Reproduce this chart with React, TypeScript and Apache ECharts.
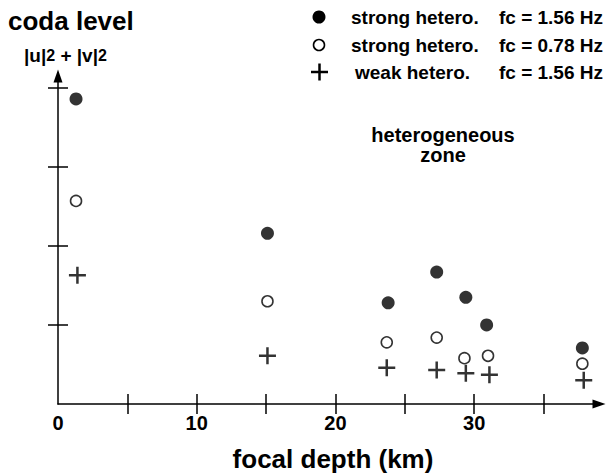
import React, { useEffect, useRef } from "react";
import * as echarts from "echarts";

const seriesNames = [
  "strong hetero.",
  "strong hetero.",
  "weak hetero.",
];
const seriesFc = ["fc = 1.56 Hz", "fc = 0.78 Hz", "fc = 1.56 Hz"];

// focal depth (km), coda level
const strong156: [number, number][] = [
  [1.3, 3.86],
  [15.1, 2.16],
  [23.8, 1.28],
  [27.3, 1.67],
  [29.4, 1.35],
  [30.9, 1.0],
  [37.8, 0.71],
];
const strong078: [number, number][] = [
  [1.3, 2.57],
  [15.1, 1.3],
  [23.7, 0.78],
  [27.3, 0.84],
  [29.3, 0.58],
  [31.0, 0.61],
  [37.8, 0.51],
];
const weak156: [number, number][] = [
  [1.4, 1.63],
  [15.1, 0.61],
  [23.7, 0.46],
  [27.3, 0.43],
  [29.4, 0.39],
  [31.1, 0.37],
  [37.9, 0.3],
];

const xTickValues = [5, 10, 15, 20, 25, 30, 35];
const xLabelValues = [0, 10, 20, 30];
const yTickValues = [1, 2, 3, 4];

const FONT = "'Liberation Sans', Arial, Helvetica, sans-serif";
const PLUS =
  "path://M7.25,0 h2.5 v7.25 h7.25 v2.5 h-7.25 v7.25 h-2.5 v-7.25 h-7.25 v-2.5 h7.25 z";

export default function App() {
  const ref = useRef<HTMLDivElement>(null);
  useEffect(() => {
    if (!ref.current) return;
    const chart = echarts.init(ref.current, null, { renderer: "svg" });
    const gridRect = { left: 58, top: 76, width: 541, height: 328 };
    const xMax = 39;
    const yMax = 4.15;
    const legendRows = [17, 45, 72];
    const axisLineCommon = {
      show: true,
      symbol: ["none", "triangle"],
      symbolSize: [9, 13],
      lineStyle: { color: "#000", width: 1.5 },
    };
    const option: any = {
      animation: false,
      backgroundColor: "#fff",
      textStyle: { fontFamily: FONT },
      grid: [{ ...gridRect }, { ...gridRect }],
      xAxis: [
        {
          type: "value",
          gridIndex: 0,
          min: 0,
          max: xMax,
          interval: 5,
          axisLine: axisLineCommon,
          axisTick: {
            show: true,
            length: 10,
            customValues: xTickValues,
            lineStyle: { color: "#000", width: 1.5 },
          },
          axisLabel: {
            show: true,
            customValues: xLabelValues,
            margin: 9,
            color: "#000",
            fontSize: 20,
            fontWeight: "bold",
            fontFamily: FONT,
          },
          splitLine: { show: false },
        },
        {
          type: "value",
          gridIndex: 1,
          min: 0,
          max: xMax,
          interval: 5,
          axisLine: { show: false },
          axisTick: {
            show: true,
            inside: true,
            length: 10,
            customValues: xTickValues,
            lineStyle: { color: "#000", width: 1.5 },
          },
          axisLabel: { show: false },
          splitLine: { show: false },
        },
      ],
      yAxis: [
        {
          type: "value",
          gridIndex: 0,
          min: 0,
          max: yMax,
          interval: 1,
          axisLine: axisLineCommon,
          axisTick: {
            show: true,
            length: 10,
            customValues: yTickValues,
            lineStyle: { color: "#000", width: 1.5 },
          },
          axisLabel: { show: false },
          splitLine: { show: false },
        },
        {
          type: "value",
          gridIndex: 1,
          min: 0,
          max: yMax,
          interval: 1,
          axisLine: { show: false },
          axisTick: {
            show: true,
            inside: true,
            length: 10,
            customValues: yTickValues,
            lineStyle: { color: "#000", width: 1.5 },
          },
          axisLabel: { show: false },
          splitLine: { show: false },
        },
      ],
      series: [
        {
          name: seriesNames[0] + " " + seriesFc[0],
          type: "scatter",
          xAxisIndex: 0,
          yAxisIndex: 0,
          symbol: "circle",
          symbolSize: 13,
          itemStyle: { color: "#000" },
          data: strong156,
        },
        {
          name: seriesNames[1] + " " + seriesFc[1],
          type: "scatter",
          xAxisIndex: 0,
          yAxisIndex: 0,
          symbol: "circle",
          symbolSize: 11,
          itemStyle: { color: "#fff", borderColor: "#000", borderWidth: 1.6 },
          data: strong078,
        },
        {
          name: seriesNames[2] + " " + seriesFc[2],
          type: "scatter",
          xAxisIndex: 0,
          yAxisIndex: 0,
          symbol: PLUS,
          symbolSize: 17,
          itemStyle: { color: "#000" },
          data: weak156,
        },
      ],
      graphic: [
        {
          type: "text",
          left: 8,
          top: 8,
          style: {
            text: "coda level",
            font: `bold 26px ${FONT}`,
            fill: "#000",
          },
        },
        {
          type: "text",
          x: 24,
          y: 55,
          style: {
            text: "{a||u|}{b|2}{a| + |v|}{b|2}",
            textVerticalAlign: "middle",
            rich: {
              a: { fontSize: 19, fontWeight: "bold", fontFamily: FONT, fill: "#000" },
              b: { fontSize: 16, fontWeight: "bold", fontFamily: FONT, fill: "#000" },
            },
          },
        },
        // legend markers
        {
          type: "circle",
          shape: { cx: 319, cy: legendRows[0], r: 6.5 },
          style: { fill: "#000" },
        },
        {
          type: "circle",
          shape: { cx: 319, cy: legendRows[1], r: 5.5 },
          style: { fill: "#fff", stroke: "#000", lineWidth: 1.6 },
        },
        {
          type: "rect",
          shape: { x: 311, y: legendRows[2] - 1.25, width: 17, height: 2.5 },
          style: { fill: "#000" },
        },
        {
          type: "rect",
          shape: { x: 318.25, y: legendRows[2] - 8.5, width: 2.5, height: 17 },
          style: { fill: "#000" },
        },
        ...legendRows.map((y, i) => ({
          type: "text",
          x: i === 2 ? 355 : 351,
          y,
          style: {
            text: seriesNames[i],
            font: `bold 19px ${FONT}`,
            fill: "#000",
            textAlign: "left",
            textVerticalAlign: "middle",
          },
        })),
        ...legendRows.map((y, i) => ({
          type: "text",
          x: 603,
          y,
          style: {
            text: seriesFc[i],
            font: `bold 19px ${FONT}`,
            fill: "#000",
            textAlign: "right",
            textVerticalAlign: "middle",
          },
        })),
        {
          type: "text",
          x: 443,
          y: 144.5,
          style: {
            text: "heterogeneous\nzone",
            font: `bold 20px ${FONT}`,
            lineHeight: 20,
            fill: "#000",
            textAlign: "center",
            textVerticalAlign: "middle",
          },
        },
        {
          type: "text",
          x: 333,
          y: 459,
          style: {
            text: "focal depth (km)",
            font: `bold 26px ${FONT}`,
            fill: "#000",
            textAlign: "center",
            textVerticalAlign: "middle",
          },
        },
      ],
    };
    chart.setOption(option);
    return () => chart.dispose();
  }, []);
  return (
    <div
      ref={ref}
      style={{ position: "absolute", left: 0, top: 0, width: 609, height: 475 }}
    />
  );
}
